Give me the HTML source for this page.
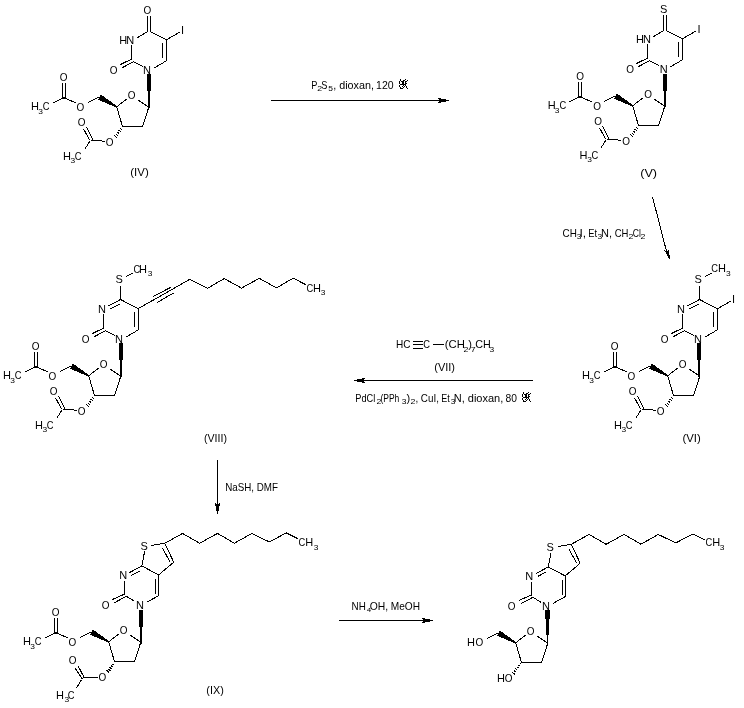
<!DOCTYPE html>
<html><head><meta charset="utf-8"><style>
html,body{margin:0;padding:0;background:#fff;}
svg{display:block;will-change:transform;}
text{font-family:"Liberation Sans",sans-serif;fill:#000;}
line,polyline{stroke:#000;stroke-width:1;fill:none;shape-rendering:crispEdges;}
line.h{stroke-width:1;}
rect{fill:#000;shape-rendering:crispEdges;}
polygon{shape-rendering:crispEdges;}
</style></head><body>
<svg width="744" height="708" viewBox="0 0 744 708">
<rect width="744" height="708" style="fill:#fff"/>
<line x1="116.70" y1="106.80" x2="126.60" y2="99.20"/>
<text x="127.63" y="99.00" font-size="11" textLength="7.75" lengthAdjust="spacingAndGlyphs">O</text>
<line x1="138.10" y1="100.10" x2="148.10" y2="106.80"/>
<line x1="116.80" y1="107.20" x2="122.40" y2="126.30"/>
<line x1="122.40" y1="126.50" x2="142.70" y2="126.50"/>
<line x1="142.70" y1="126.30" x2="148.70" y2="107.40"/>
<rect x="147" y="74" width="4" height="17"/>
<rect x="148" y="91" width="2" height="17"/>
<polygon points="117.19,106.20 100.82,94.57 97.98,99.63 116.41,107.60"/>
<line x1="88.30" y1="102.50" x2="98.60" y2="97.30"/>
<text x="59.73" y="81.00" font-size="11" textLength="7.75" lengthAdjust="spacingAndGlyphs">O</text>
<line x1="62.50" y1="83.30" x2="62.50" y2="97.60"/>
<line x1="65.50" y1="83.30" x2="65.50" y2="97.60"/>
<line x1="64.00" y1="97.80" x2="53.40" y2="102.70"/>
<line x1="64.00" y1="97.80" x2="76.40" y2="103.10"/>
<text x="76.53" y="111.00" font-size="11" textLength="7.75" lengthAdjust="spacingAndGlyphs">O</text>
<text x="31.10" y="110.00" font-size="11">H</text>
<text x="38.18" y="114.00" font-size="7" textLength="4.69" lengthAdjust="spacingAndGlyphs">3</text>
<text x="42.83" y="110.00" font-size="11" textLength="6.73" lengthAdjust="spacingAndGlyphs">C</text>
<line class="h" x1="120.26" y1="128.36" x2="121.94" y2="129.64"/>
<line class="h" x1="118.69" y1="130.13" x2="120.66" y2="131.62"/>
<line class="h" x1="117.12" y1="131.89" x2="119.38" y2="133.61"/>
<line class="h" x1="115.54" y1="133.65" x2="118.11" y2="135.60"/>
<line class="h" x1="113.97" y1="135.41" x2="116.83" y2="137.59"/>
<text x="105.63" y="146.00" font-size="11" textLength="7.75" lengthAdjust="spacingAndGlyphs">O</text>
<line x1="105.40" y1="141.20" x2="90.60" y2="140.30"/>
<line x1="83.60" y1="129.00" x2="89.70" y2="140.30"/>
<line x1="86.60" y1="127.20" x2="92.80" y2="139.90"/>
<text x="77.73" y="126.00" font-size="11" textLength="7.75" lengthAdjust="spacingAndGlyphs">O</text>
<line x1="89.70" y1="141.60" x2="84.50" y2="149.50"/>
<text x="63.00" y="160.00" font-size="11">H</text>
<text x="70.58" y="163.00" font-size="7" textLength="4.69" lengthAdjust="spacingAndGlyphs">3</text>
<text x="74.83" y="160.00" font-size="11" textLength="6.73" lengthAdjust="spacingAndGlyphs">C</text>
<text x="143.03" y="74.00" font-size="11">N</text>
<line x1="142.80" y1="66.40" x2="133.00" y2="61.70"/>
<line x1="120.00" y1="64.70" x2="131.70" y2="59.10"/>
<line x1="122.20" y1="67.70" x2="132.90" y2="62.10"/>
<text x="109.73" y="74.00" font-size="11" textLength="7.75" lengthAdjust="spacingAndGlyphs">O</text>
<line x1="131.50" y1="59.50" x2="131.50" y2="44.90"/>
<line x1="166.50" y1="39.80" x2="166.50" y2="60.80"/>
<line x1="162.60" y1="43.20" x2="162.60" y2="58.20"/>
<line x1="166.50" y1="60.80" x2="154.50" y2="67.70"/>
<text x="119.30" y="44.00" font-size="11">H</text>
<text x="126.30" y="44.00" font-size="11">N</text>
<line x1="137.40" y1="37.60" x2="148.20" y2="31.20"/>
<line x1="147.50" y1="16.10" x2="147.50" y2="31.20"/>
<line x1="150.50" y1="16.10" x2="150.50" y2="31.20"/>
<text x="143.53" y="14.00" font-size="11" textLength="7.75" lengthAdjust="spacingAndGlyphs">O</text>
<line x1="150.30" y1="31.70" x2="166.30" y2="39.80"/>
<line x1="166.30" y1="39.80" x2="179.40" y2="32.30"/>
<text x="180.98" y="34.00" font-size="11">I</text>
<text x="130.29" y="176.00" font-size="11" textLength="18.42" lengthAdjust="spacingAndGlyphs">(IV)</text>
<line x1="632.70" y1="105.80" x2="642.60" y2="98.20"/>
<text x="644.23" y="98.00" font-size="11" textLength="7.75" lengthAdjust="spacingAndGlyphs">O</text>
<line x1="654.10" y1="99.10" x2="664.10" y2="105.80"/>
<line x1="632.80" y1="106.20" x2="638.40" y2="125.30"/>
<line x1="638.40" y1="125.50" x2="658.70" y2="125.50"/>
<line x1="658.70" y1="125.30" x2="664.70" y2="106.40"/>
<rect x="663" y="74" width="4" height="17"/>
<rect x="664" y="91" width="2" height="16"/>
<polygon points="633.19,105.20 616.82,93.57 613.98,98.63 632.41,106.60"/>
<line x1="604.30" y1="101.50" x2="614.60" y2="96.30"/>
<text x="576.33" y="80.00" font-size="11" textLength="7.75" lengthAdjust="spacingAndGlyphs">O</text>
<line x1="578.50" y1="82.30" x2="578.50" y2="96.60"/>
<line x1="581.50" y1="82.30" x2="581.50" y2="96.60"/>
<line x1="580.00" y1="96.80" x2="569.40" y2="101.70"/>
<line x1="580.00" y1="96.80" x2="592.40" y2="102.10"/>
<text x="593.13" y="110.00" font-size="11" textLength="7.75" lengthAdjust="spacingAndGlyphs">O</text>
<text x="547.70" y="109.00" font-size="11">H</text>
<text x="554.78" y="113.00" font-size="7" textLength="4.69" lengthAdjust="spacingAndGlyphs">3</text>
<text x="559.43" y="109.00" font-size="11" textLength="6.73" lengthAdjust="spacingAndGlyphs">C</text>
<line class="h" x1="636.26" y1="127.36" x2="637.94" y2="128.64"/>
<line class="h" x1="634.69" y1="129.13" x2="636.66" y2="130.62"/>
<line class="h" x1="633.12" y1="130.89" x2="635.38" y2="132.61"/>
<line class="h" x1="631.54" y1="132.65" x2="634.11" y2="134.60"/>
<line class="h" x1="629.97" y1="134.41" x2="632.83" y2="136.59"/>
<text x="622.23" y="145.00" font-size="11" textLength="7.75" lengthAdjust="spacingAndGlyphs">O</text>
<line x1="621.40" y1="140.20" x2="606.60" y2="139.30"/>
<line x1="599.60" y1="128.00" x2="605.70" y2="139.30"/>
<line x1="602.60" y1="126.20" x2="608.80" y2="138.90"/>
<text x="594.33" y="125.00" font-size="11" textLength="7.75" lengthAdjust="spacingAndGlyphs">O</text>
<line x1="605.70" y1="140.60" x2="600.50" y2="148.50"/>
<text x="579.60" y="159.00" font-size="11">H</text>
<text x="587.18" y="162.00" font-size="7" textLength="4.69" lengthAdjust="spacingAndGlyphs">3</text>
<text x="591.43" y="159.00" font-size="11" textLength="6.73" lengthAdjust="spacingAndGlyphs">C</text>
<text x="659.63" y="73.00" font-size="11">N</text>
<line x1="658.80" y1="65.40" x2="649.00" y2="60.70"/>
<line x1="636.00" y1="63.70" x2="647.70" y2="58.10"/>
<line x1="638.20" y1="66.70" x2="648.90" y2="61.10"/>
<text x="626.33" y="73.00" font-size="11" textLength="7.75" lengthAdjust="spacingAndGlyphs">O</text>
<line x1="647.50" y1="58.50" x2="647.50" y2="43.90"/>
<line x1="682.50" y1="38.80" x2="682.50" y2="59.80"/>
<line x1="678.60" y1="42.20" x2="678.60" y2="57.20"/>
<line x1="682.50" y1="59.80" x2="670.50" y2="66.70"/>
<text x="635.90" y="43.00" font-size="11">H</text>
<text x="642.90" y="43.00" font-size="11">N</text>
<line x1="653.40" y1="36.60" x2="664.20" y2="30.20"/>
<line x1="663.50" y1="15.10" x2="663.50" y2="30.20"/>
<line x1="666.50" y1="15.10" x2="666.50" y2="30.20"/>
<text x="659.93" y="13.00" font-size="11">S</text>
<line x1="666.30" y1="30.70" x2="682.30" y2="38.80"/>
<line x1="682.30" y1="38.80" x2="695.40" y2="31.30"/>
<text x="697.58" y="33.00" font-size="11">I</text>
<text x="640.22" y="177.00" font-size="11" textLength="16.87" lengthAdjust="spacingAndGlyphs">(V)</text>
<line x1="667.70" y1="375.80" x2="677.60" y2="368.20"/>
<text x="678.63" y="368.00" font-size="11" textLength="7.75" lengthAdjust="spacingAndGlyphs">O</text>
<line x1="689.10" y1="369.10" x2="699.10" y2="375.80"/>
<line x1="667.80" y1="376.20" x2="673.40" y2="395.30"/>
<line x1="673.40" y1="395.50" x2="693.70" y2="395.50"/>
<line x1="693.70" y1="395.30" x2="699.70" y2="376.40"/>
<rect x="697" y="343" width="4" height="17"/>
<rect x="698" y="360" width="2" height="17"/>
<polygon points="668.19,375.20 651.82,363.57 648.98,368.63 667.41,376.60"/>
<line x1="639.30" y1="371.50" x2="649.60" y2="366.30"/>
<text x="610.73" y="350.00" font-size="11" textLength="7.75" lengthAdjust="spacingAndGlyphs">O</text>
<line x1="613.50" y1="352.30" x2="613.50" y2="366.60"/>
<line x1="616.50" y1="352.30" x2="616.50" y2="366.60"/>
<line x1="615.00" y1="366.80" x2="604.40" y2="371.70"/>
<line x1="615.00" y1="366.80" x2="627.40" y2="372.10"/>
<text x="627.53" y="380.00" font-size="11" textLength="7.75" lengthAdjust="spacingAndGlyphs">O</text>
<text x="582.10" y="379.00" font-size="11">H</text>
<text x="589.18" y="383.00" font-size="7" textLength="4.69" lengthAdjust="spacingAndGlyphs">3</text>
<text x="593.83" y="379.00" font-size="11" textLength="6.73" lengthAdjust="spacingAndGlyphs">C</text>
<line class="h" x1="671.26" y1="397.36" x2="672.94" y2="398.64"/>
<line class="h" x1="669.69" y1="399.13" x2="671.66" y2="400.62"/>
<line class="h" x1="668.12" y1="400.89" x2="670.38" y2="402.61"/>
<line class="h" x1="666.54" y1="402.65" x2="669.11" y2="404.60"/>
<line class="h" x1="664.97" y1="404.41" x2="667.83" y2="406.59"/>
<text x="656.63" y="415.00" font-size="11" textLength="7.75" lengthAdjust="spacingAndGlyphs">O</text>
<line x1="656.40" y1="410.20" x2="641.60" y2="409.30"/>
<line x1="634.60" y1="398.00" x2="640.70" y2="409.30"/>
<line x1="637.60" y1="396.20" x2="643.80" y2="408.90"/>
<text x="628.73" y="395.00" font-size="11" textLength="7.75" lengthAdjust="spacingAndGlyphs">O</text>
<line x1="640.70" y1="410.60" x2="635.50" y2="418.50"/>
<text x="614.00" y="429.00" font-size="11">H</text>
<text x="621.58" y="432.00" font-size="7" textLength="4.69" lengthAdjust="spacingAndGlyphs">3</text>
<text x="625.83" y="429.00" font-size="11" textLength="6.73" lengthAdjust="spacingAndGlyphs">C</text>
<text x="694.03" y="343.00" font-size="11">N</text>
<line x1="693.80" y1="335.40" x2="684.00" y2="330.70"/>
<line x1="671.00" y1="333.70" x2="682.70" y2="328.10"/>
<line x1="673.20" y1="336.70" x2="683.90" y2="331.10"/>
<text x="660.73" y="343.00" font-size="11" textLength="7.75" lengthAdjust="spacingAndGlyphs">O</text>
<line x1="682.50" y1="328.50" x2="682.50" y2="313.90"/>
<line x1="717.50" y1="308.80" x2="717.50" y2="329.80"/>
<line x1="713.60" y1="312.20" x2="713.60" y2="327.20"/>
<line x1="717.50" y1="329.80" x2="705.50" y2="336.70"/>
<text x="677.00" y="313.00" font-size="11">N</text>
<line x1="686.70" y1="306.20" x2="699.60" y2="299.50"/>
<line x1="689.00" y1="309.10" x2="698.60" y2="304.00"/>
<line x1="699.50" y1="285.50" x2="699.50" y2="299.50"/>
<text x="694.40" y="283.00" font-size="11">S</text>
<line x1="705.10" y1="276.50" x2="711.80" y2="273.10"/>
<line x1="699.60" y1="299.50" x2="717.30" y2="308.80"/>
<line x1="717.30" y1="308.80" x2="730.40" y2="301.30"/>
<text x="731.98" y="303.00" font-size="11">I</text>
<text x="711.33" y="272.00" font-size="11" textLength="6.73" lengthAdjust="spacingAndGlyphs">C</text>
<text x="718.00" y="272.00" font-size="11">H</text>
<text x="725.98" y="276.00" font-size="7" textLength="4.69" lengthAdjust="spacingAndGlyphs">3</text>
<text x="682.40" y="442.00" font-size="11" textLength="18.31" lengthAdjust="spacingAndGlyphs">(VI)</text>
<line x1="88.70" y1="375.80" x2="98.60" y2="368.20"/>
<text x="99.63" y="368.00" font-size="11" textLength="7.75" lengthAdjust="spacingAndGlyphs">O</text>
<line x1="110.10" y1="369.10" x2="120.10" y2="375.80"/>
<line x1="88.80" y1="376.20" x2="94.40" y2="395.30"/>
<line x1="94.40" y1="395.50" x2="114.70" y2="395.50"/>
<line x1="114.70" y1="395.30" x2="120.70" y2="376.40"/>
<rect x="119" y="343" width="4" height="17"/>
<rect x="120" y="360" width="2" height="17"/>
<polygon points="89.19,375.20 72.82,363.57 69.98,368.63 88.41,376.60"/>
<line x1="60.30" y1="371.50" x2="70.60" y2="366.30"/>
<text x="31.73" y="350.00" font-size="11" textLength="7.75" lengthAdjust="spacingAndGlyphs">O</text>
<line x1="34.50" y1="352.30" x2="34.50" y2="366.60"/>
<line x1="37.50" y1="352.30" x2="37.50" y2="366.60"/>
<line x1="36.00" y1="366.80" x2="25.40" y2="371.70"/>
<line x1="36.00" y1="366.80" x2="48.40" y2="372.10"/>
<text x="48.53" y="380.00" font-size="11" textLength="7.75" lengthAdjust="spacingAndGlyphs">O</text>
<text x="3.10" y="379.00" font-size="11">H</text>
<text x="10.18" y="383.00" font-size="7" textLength="4.69" lengthAdjust="spacingAndGlyphs">3</text>
<text x="14.83" y="379.00" font-size="11" textLength="6.73" lengthAdjust="spacingAndGlyphs">C</text>
<line class="h" x1="92.26" y1="397.36" x2="93.94" y2="398.64"/>
<line class="h" x1="90.69" y1="399.13" x2="92.66" y2="400.62"/>
<line class="h" x1="89.12" y1="400.89" x2="91.38" y2="402.61"/>
<line class="h" x1="87.54" y1="402.65" x2="90.11" y2="404.60"/>
<line class="h" x1="85.97" y1="404.41" x2="88.83" y2="406.59"/>
<text x="77.63" y="415.00" font-size="11" textLength="7.75" lengthAdjust="spacingAndGlyphs">O</text>
<line x1="77.40" y1="410.20" x2="62.60" y2="409.30"/>
<line x1="55.60" y1="398.00" x2="61.70" y2="409.30"/>
<line x1="58.60" y1="396.20" x2="64.80" y2="408.90"/>
<text x="49.73" y="395.00" font-size="11" textLength="7.75" lengthAdjust="spacingAndGlyphs">O</text>
<line x1="61.70" y1="410.60" x2="56.50" y2="418.50"/>
<text x="35.00" y="429.00" font-size="11">H</text>
<text x="42.58" y="432.00" font-size="7" textLength="4.69" lengthAdjust="spacingAndGlyphs">3</text>
<text x="46.83" y="429.00" font-size="11" textLength="6.73" lengthAdjust="spacingAndGlyphs">C</text>
<text x="115.03" y="343.00" font-size="11">N</text>
<line x1="114.80" y1="335.40" x2="105.00" y2="330.70"/>
<line x1="92.00" y1="333.70" x2="103.70" y2="328.10"/>
<line x1="94.20" y1="336.70" x2="104.90" y2="331.10"/>
<text x="81.73" y="343.00" font-size="11" textLength="7.75" lengthAdjust="spacingAndGlyphs">O</text>
<line x1="103.50" y1="328.50" x2="103.50" y2="313.90"/>
<line x1="138.50" y1="308.80" x2="138.50" y2="329.80"/>
<line x1="134.60" y1="312.20" x2="134.60" y2="327.20"/>
<line x1="138.50" y1="329.80" x2="126.50" y2="336.70"/>
<text x="98.00" y="313.00" font-size="11">N</text>
<line x1="107.70" y1="306.20" x2="120.60" y2="299.50"/>
<line x1="110.00" y1="309.10" x2="119.60" y2="304.00"/>
<line x1="120.50" y1="285.50" x2="120.50" y2="299.50"/>
<text x="115.40" y="283.00" font-size="11">S</text>
<line x1="126.10" y1="276.50" x2="132.80" y2="273.10"/>
<line x1="120.60" y1="299.50" x2="138.30" y2="308.80"/>
<text x="133.43" y="273.00" font-size="11" textLength="6.73" lengthAdjust="spacingAndGlyphs">C</text>
<text x="139.00" y="273.00" font-size="11">H</text>
<text x="147.68" y="276.00" font-size="7" textLength="4.69" lengthAdjust="spacingAndGlyphs">3</text>
<line x1="138.30" y1="308.60" x2="189.60" y2="279.40"/>
<line x1="153.30" y1="296.30" x2="170.70" y2="287.40"/>
<line x1="157.10" y1="302.50" x2="173.60" y2="293.00"/>
<polyline points="189.60,279.40 207.60,288.30 224.20,278.60 241.50,288.10 259.30,278.30 276.50,287.90 293.20,278.20 305.60,284.60"/>
<text x="306.53" y="292.00" font-size="11" textLength="6.73" lengthAdjust="spacingAndGlyphs">C</text>
<text x="313.10" y="292.00" font-size="11">H</text>
<text x="320.78" y="295.00" font-size="7" textLength="4.69" lengthAdjust="spacingAndGlyphs">3</text>
<text x="204.04" y="442.00" font-size="11" textLength="22.91" lengthAdjust="spacingAndGlyphs">(VIII)</text>
<line x1="108.70" y1="641.80" x2="118.60" y2="634.20"/>
<text x="119.63" y="634.00" font-size="11" textLength="7.75" lengthAdjust="spacingAndGlyphs">O</text>
<line x1="130.10" y1="635.10" x2="140.10" y2="641.80"/>
<line x1="108.80" y1="642.20" x2="114.40" y2="661.30"/>
<line x1="114.40" y1="661.50" x2="134.70" y2="661.50"/>
<line x1="134.70" y1="661.30" x2="140.70" y2="642.40"/>
<rect x="139" y="610" width="4" height="17"/>
<rect x="140" y="627" width="2" height="17"/>
<polygon points="109.19,641.20 92.82,629.57 89.98,634.63 108.41,642.60"/>
<line x1="80.30" y1="637.50" x2="90.60" y2="632.30"/>
<text x="51.73" y="616.00" font-size="11" textLength="7.75" lengthAdjust="spacingAndGlyphs">O</text>
<line x1="54.50" y1="618.30" x2="54.50" y2="632.60"/>
<line x1="57.50" y1="618.30" x2="57.50" y2="632.60"/>
<line x1="56.00" y1="632.80" x2="45.40" y2="637.70"/>
<line x1="56.00" y1="632.80" x2="68.40" y2="638.10"/>
<text x="68.53" y="646.00" font-size="11" textLength="7.75" lengthAdjust="spacingAndGlyphs">O</text>
<text x="23.10" y="645.00" font-size="11">H</text>
<text x="30.18" y="649.00" font-size="7" textLength="4.69" lengthAdjust="spacingAndGlyphs">3</text>
<text x="34.83" y="645.00" font-size="11" textLength="6.73" lengthAdjust="spacingAndGlyphs">C</text>
<line class="h" x1="112.37" y1="663.95" x2="114.03" y2="665.25"/>
<line class="h" x1="110.90" y1="665.54" x2="112.85" y2="667.06"/>
<line class="h" x1="109.43" y1="667.12" x2="111.67" y2="668.88"/>
<line class="h" x1="107.95" y1="668.71" x2="110.50" y2="670.69"/>
<line class="h" x1="106.48" y1="670.29" x2="109.32" y2="672.51"/>
<text x="98.53" y="681.00" font-size="11" textLength="7.75" lengthAdjust="spacingAndGlyphs">O</text>
<line x1="97.60" y1="677.50" x2="83.10" y2="677.50"/>
<line x1="75.40" y1="668.50" x2="82.30" y2="679.00"/>
<line x1="78.20" y1="666.10" x2="83.90" y2="677.00"/>
<text x="68.73" y="664.00" font-size="11" textLength="7.75" lengthAdjust="spacingAndGlyphs">O</text>
<line x1="81.50" y1="679.80" x2="76.20" y2="688.30"/>
<text x="56.00" y="699.00" font-size="11">H</text>
<text x="64.58" y="702.00" font-size="7" textLength="4.69" lengthAdjust="spacingAndGlyphs">3</text>
<text x="67.63" y="699.00" font-size="11" textLength="6.73" lengthAdjust="spacingAndGlyphs">C</text>
<text x="136.03" y="609.00" font-size="11">N</text>
<line x1="134.60" y1="601.30" x2="126.50" y2="596.40"/>
<line x1="112.40" y1="599.50" x2="124.00" y2="594.30"/>
<line x1="114.50" y1="602.70" x2="126.10" y2="596.40"/>
<text x="101.63" y="609.00" font-size="11" textLength="7.75" lengthAdjust="spacingAndGlyphs">O</text>
<line x1="124.50" y1="594.60" x2="124.50" y2="581.20"/>
<text x="119.20" y="579.00" font-size="11">N</text>
<line x1="129.30" y1="572.70" x2="141.70" y2="566.00"/>
<line x1="131.10" y1="575.50" x2="139.90" y2="570.90"/>
<line x1="141.90" y1="565.70" x2="144.60" y2="551.50"/>
<text x="140.50" y="550.00" font-size="11">S</text>
<line x1="151.50" y1="545.50" x2="164.80" y2="543.20"/>
<line x1="164.80" y1="543.20" x2="173.60" y2="562.00"/>
<line x1="162.50" y1="548.30" x2="169.90" y2="561.60"/>
<line x1="173.60" y1="562.30" x2="158.70" y2="574.90"/>
<line x1="141.90" y1="566.00" x2="158.70" y2="574.90"/>
<line x1="158.50" y1="574.90" x2="158.50" y2="595.60"/>
<line x1="155.50" y1="579.00" x2="155.50" y2="593.70"/>
<line x1="158.70" y1="595.60" x2="146.50" y2="602.40"/>
<polyline points="164.80,543.30 182.60,533.40 199.60,543.30 217.50,533.40 234.40,543.20 251.80,533.50 269.30,541.90 286.40,532.90 298.00,538.80"/>
<text x="298.53" y="546.00" font-size="11" textLength="6.73" lengthAdjust="spacingAndGlyphs">C</text>
<text x="305.30" y="546.00" font-size="11">H</text>
<text x="313.68" y="550.00" font-size="7" textLength="4.69" lengthAdjust="spacingAndGlyphs">3</text>
<text x="206.33" y="694.00" font-size="11" textLength="17.44" lengthAdjust="spacingAndGlyphs">(IX)</text>
<line x1="515.70" y1="642.80" x2="525.60" y2="635.20"/>
<text x="526.63" y="635.00" font-size="11" textLength="7.75" lengthAdjust="spacingAndGlyphs">O</text>
<line x1="537.10" y1="636.10" x2="547.10" y2="642.80"/>
<line x1="515.80" y1="643.20" x2="521.40" y2="662.30"/>
<line x1="521.40" y1="662.50" x2="541.70" y2="662.50"/>
<line x1="541.70" y1="662.30" x2="547.70" y2="643.40"/>
<rect x="545" y="610" width="5" height="9"/>
<rect x="546" y="619" width="3" height="16"/>
<rect x="547" y="635" width="1" height="9"/>
<polygon points="516.19,642.20 499.82,630.57 496.98,635.63 515.41,643.60"/>
<line x1="487.30" y1="638.50" x2="497.60" y2="633.30"/>
<line class="h" x1="520.01" y1="663.15" x2="520.99" y2="663.85"/>
<line class="h" x1="518.43" y1="664.98" x2="519.77" y2="665.94"/>
<line class="h" x1="516.85" y1="666.82" x2="518.55" y2="668.02"/>
<line class="h" x1="515.27" y1="668.65" x2="517.33" y2="670.11"/>
<line class="h" x1="513.70" y1="670.48" x2="516.10" y2="672.20"/>
<line class="h" x1="512.12" y1="672.31" x2="514.88" y2="674.29"/>
<text x="542.03" y="609.50" font-size="11">N</text>
<line x1="541.10" y1="602.30" x2="533.00" y2="597.40"/>
<line x1="518.90" y1="600.50" x2="530.50" y2="595.30"/>
<line x1="521.00" y1="603.70" x2="532.60" y2="597.40"/>
<text x="507.63" y="609.50" font-size="11" textLength="7.75" lengthAdjust="spacingAndGlyphs">O</text>
<line x1="531.00" y1="595.60" x2="531.00" y2="582.20"/>
<text x="525.20" y="579.50" font-size="11">N</text>
<line x1="535.80" y1="573.70" x2="548.20" y2="567.00"/>
<line x1="537.60" y1="576.50" x2="546.40" y2="571.90"/>
<line x1="548.40" y1="566.70" x2="551.10" y2="552.50"/>
<text x="546.50" y="550.50" font-size="11">S</text>
<line x1="558.00" y1="546.50" x2="571.30" y2="544.20"/>
<line x1="571.30" y1="544.20" x2="580.10" y2="563.00"/>
<line x1="569.00" y1="549.30" x2="576.40" y2="562.60"/>
<line x1="580.10" y1="563.30" x2="565.20" y2="575.90"/>
<line x1="548.40" y1="567.00" x2="565.20" y2="575.90"/>
<line x1="565.00" y1="575.90" x2="565.00" y2="596.60"/>
<line x1="562.00" y1="580.00" x2="562.00" y2="594.70"/>
<line x1="565.20" y1="596.60" x2="553.00" y2="603.40"/>
<polyline points="571.30,544.30 589.10,534.40 606.10,544.30 624.00,534.40 640.90,544.20 658.30,534.50 675.80,542.90 692.90,533.90 704.50,539.80"/>
<text x="705.43" y="546.00" font-size="11" textLength="6.73" lengthAdjust="spacingAndGlyphs">C</text>
<text x="712.20" y="546.00" font-size="11">H</text>
<text x="719.78" y="550.00" font-size="7" textLength="4.69" lengthAdjust="spacingAndGlyphs">3</text>
<text x="467.10" y="646.00" font-size="11">H</text>
<text x="475.53" y="646.00" font-size="11" textLength="7.75" lengthAdjust="spacingAndGlyphs">O</text>
<text x="497.10" y="682.00" font-size="11">H</text>
<text x="504.83" y="682.00" font-size="11" textLength="7.75" lengthAdjust="spacingAndGlyphs">O</text>
<rect x="271" y="100" width="178" height="1"/>
<rect x="438" y="98" width="1" height="1"/>
<rect x="438" y="102" width="1" height="1"/>
<rect x="439" y="98" width="2" height="5"/>
<rect x="441" y="99" width="5" height="3"/>
<line x1="652.60" y1="197.20" x2="667.20" y2="254.00"/>
<polygon points="669.9,260.2 664.3,250.3 667.0,252.3 669.0,248.9"/>
<rect x="354" y="380" width="179" height="1"/>
<rect x="357" y="379" width="5" height="3"/>
<rect x="362" y="378" width="2" height="5"/>
<rect x="364" y="378" width="1" height="1"/>
<rect x="364" y="382" width="1" height="1"/>
<rect x="217" y="460" width="1" height="54"/>
<rect x="215" y="503" width="1" height="1"/>
<rect x="219" y="503" width="1" height="1"/>
<rect x="215" y="504" width="5" height="2"/>
<rect x="216" y="506" width="3" height="5"/>
<rect x="339" y="620" width="94" height="1"/>
<rect x="422" y="618" width="1" height="1"/>
<rect x="422" y="622" width="1" height="1"/>
<rect x="423" y="618" width="2" height="5"/>
<rect x="425" y="619" width="5" height="3"/>
<text x="311.24" y="89.00" font-size="11" textLength="6.14" lengthAdjust="spacingAndGlyphs">P</text>
<text x="317.26" y="91.00" font-size="7.5" textLength="4.88" lengthAdjust="spacingAndGlyphs">2</text>
<text x="321.28" y="89.00" font-size="11" textLength="6.14" lengthAdjust="spacingAndGlyphs">S</text>
<text x="328.26" y="91.00" font-size="7.5" textLength="4.69" lengthAdjust="spacingAndGlyphs">5</text>
<text x="333.23" y="89.00" font-size="11" textLength="40.74" lengthAdjust="spacingAndGlyphs">, dioxan,</text>
<text x="376.10" y="89.00" font-size="11" textLength="17.51" lengthAdjust="spacingAndGlyphs">120</text>
<text x="562.50" y="237.00" font-size="11" textLength="14.31" lengthAdjust="spacingAndGlyphs">CH</text>
<text x="576.88" y="239.00" font-size="7.5" textLength="4.69" lengthAdjust="spacingAndGlyphs">3</text>
<text x="579.49" y="237.00" font-size="11" textLength="6.69" lengthAdjust="spacingAndGlyphs">I,</text>
<text x="588.23" y="237.00" font-size="11" textLength="8.84" lengthAdjust="spacingAndGlyphs">Et</text>
<text x="597.48" y="239.00" font-size="7.5" textLength="4.69" lengthAdjust="spacingAndGlyphs">3</text>
<text x="601.00" y="237.00" font-size="11" textLength="10.99" lengthAdjust="spacingAndGlyphs">N,</text>
<text x="614.72" y="237.00" font-size="11" textLength="13.76" lengthAdjust="spacingAndGlyphs">CH</text>
<text x="628.56" y="239.00" font-size="7.5" textLength="4.88" lengthAdjust="spacingAndGlyphs">2</text>
<text x="632.76" y="237.00" font-size="11" textLength="8.11" lengthAdjust="spacingAndGlyphs">Cl</text>
<text x="640.56" y="239.00" font-size="7.5" textLength="4.88" lengthAdjust="spacingAndGlyphs">2</text>
<text x="395.98" y="348.00" font-size="11" textLength="14.51" lengthAdjust="spacingAndGlyphs">HC</text>
<rect x="413" y="341" width="10" height="1"/>
<rect x="413" y="344" width="10" height="1"/>
<rect x="413" y="348" width="10" height="1"/>
<text x="423.23" y="348.00" font-size="11" textLength="6.73" lengthAdjust="spacingAndGlyphs">C</text>
<rect x="433" y="344" width="11" height="1"/>
<text x="444.70" y="348.00" font-size="11" textLength="20.13" lengthAdjust="spacingAndGlyphs">(CH</text>
<text x="463.46" y="352.00" font-size="7.5" textLength="4.88" lengthAdjust="spacingAndGlyphs">2</text>
<text x="468.34" y="348.00" font-size="11">)</text>
<text x="470.85" y="352.00" font-size="7.5" textLength="4.89" lengthAdjust="spacingAndGlyphs">7</text>
<text x="475.15" y="348.00" font-size="11" textLength="15.52" lengthAdjust="spacingAndGlyphs">CH</text>
<text x="489.48" y="352.00" font-size="7.5" textLength="4.69" lengthAdjust="spacingAndGlyphs">3</text>
<text x="434.22" y="371.00" font-size="11" textLength="20.76" lengthAdjust="spacingAndGlyphs">(VII)</text>
<text x="355.24" y="402.00" font-size="11" textLength="19.97" lengthAdjust="spacingAndGlyphs">PdCl</text>
<text x="376.56" y="404.00" font-size="7.5" textLength="4.88" lengthAdjust="spacingAndGlyphs">2</text>
<text x="380.47" y="402.00" font-size="11" textLength="18.88" lengthAdjust="spacingAndGlyphs">(PPh</text>
<text x="401.68" y="404.00" font-size="7.5" textLength="4.69" lengthAdjust="spacingAndGlyphs">3</text>
<text x="406.54" y="402.00" font-size="11">)</text>
<text x="410.56" y="404.00" font-size="7.5" textLength="4.88" lengthAdjust="spacingAndGlyphs">2</text>
<text x="415.42" y="402.00" font-size="11" textLength="23.46" lengthAdjust="spacingAndGlyphs">, CuI,</text>
<text x="441.36" y="402.00" font-size="11" textLength="8.50" lengthAdjust="spacingAndGlyphs">Et</text>
<text x="450.68" y="404.00" font-size="7.5" textLength="4.69" lengthAdjust="spacingAndGlyphs">3</text>
<text x="453.70" y="402.00" font-size="11" textLength="49.59" lengthAdjust="spacingAndGlyphs">N, dioxan,</text>
<text x="505.45" y="402.00" font-size="11" textLength="11.45" lengthAdjust="spacingAndGlyphs">80</text>
<text x="225.20" y="491.00" font-size="11" textLength="52.80" lengthAdjust="spacingAndGlyphs">NaSH, DMF</text>
<text x="351.59" y="610.00" font-size="11" textLength="14.21" lengthAdjust="spacingAndGlyphs">NH</text>
<text x="366.72" y="612.00" font-size="6" textLength="4.41" lengthAdjust="spacingAndGlyphs">4</text>
<text x="369.81" y="610.00" font-size="11" textLength="18.42" lengthAdjust="spacingAndGlyphs">OH,</text>
<text x="390.77" y="610.00" font-size="11" textLength="29.26" lengthAdjust="spacingAndGlyphs">MeOH</text>
<rect x="400" y="79" width="1" height="1"/>
<rect x="405" y="79" width="1" height="1"/>
<rect x="400" y="80" width="1" height="1"/>
<rect x="403" y="80" width="1" height="1"/>
<rect x="404" y="80" width="1" height="1"/>
<rect x="407" y="80" width="1" height="1"/>
<rect x="399" y="81" width="1" height="1"/>
<rect x="401" y="81" width="1" height="1"/>
<rect x="402" y="81" width="1" height="1"/>
<rect x="403" y="81" width="1" height="1"/>
<rect x="405" y="81" width="1" height="1"/>
<rect x="406" y="81" width="1" height="1"/>
<rect x="399" y="82" width="1" height="1"/>
<rect x="402" y="82" width="1" height="1"/>
<rect x="403" y="82" width="1" height="1"/>
<rect x="405" y="82" width="1" height="1"/>
<rect x="399" y="83" width="1" height="1"/>
<rect x="402" y="83" width="1" height="1"/>
<rect x="403" y="83" width="1" height="1"/>
<rect x="405" y="83" width="1" height="1"/>
<rect x="406" y="83" width="1" height="1"/>
<rect x="400" y="84" width="1" height="1"/>
<rect x="401" y="84" width="1" height="1"/>
<rect x="402" y="84" width="1" height="1"/>
<rect x="403" y="84" width="1" height="1"/>
<rect x="404" y="84" width="1" height="1"/>
<rect x="405" y="84" width="1" height="1"/>
<rect x="399" y="85" width="1" height="1"/>
<rect x="403" y="85" width="1" height="1"/>
<rect x="405" y="85" width="1" height="1"/>
<rect x="399" y="86" width="1" height="1"/>
<rect x="402" y="86" width="1" height="1"/>
<rect x="404" y="86" width="1" height="1"/>
<rect x="406" y="86" width="1" height="1"/>
<rect x="400" y="87" width="1" height="1"/>
<rect x="403" y="87" width="1" height="1"/>
<rect x="406" y="87" width="1" height="1"/>
<rect x="400" y="88" width="1" height="1"/>
<rect x="401" y="88" width="1" height="1"/>
<rect x="402" y="88" width="1" height="1"/>
<rect x="407" y="88" width="1" height="1"/>
<rect x="523" y="392" width="1" height="1"/>
<rect x="528" y="392" width="1" height="1"/>
<rect x="523" y="393" width="1" height="1"/>
<rect x="526" y="393" width="1" height="1"/>
<rect x="527" y="393" width="1" height="1"/>
<rect x="530" y="393" width="1" height="1"/>
<rect x="522" y="394" width="1" height="1"/>
<rect x="524" y="394" width="1" height="1"/>
<rect x="525" y="394" width="1" height="1"/>
<rect x="526" y="394" width="1" height="1"/>
<rect x="528" y="394" width="1" height="1"/>
<rect x="529" y="394" width="1" height="1"/>
<rect x="522" y="395" width="1" height="1"/>
<rect x="525" y="395" width="1" height="1"/>
<rect x="526" y="395" width="1" height="1"/>
<rect x="528" y="395" width="1" height="1"/>
<rect x="522" y="396" width="1" height="1"/>
<rect x="525" y="396" width="1" height="1"/>
<rect x="526" y="396" width="1" height="1"/>
<rect x="528" y="396" width="1" height="1"/>
<rect x="529" y="396" width="1" height="1"/>
<rect x="523" y="397" width="1" height="1"/>
<rect x="524" y="397" width="1" height="1"/>
<rect x="525" y="397" width="1" height="1"/>
<rect x="526" y="397" width="1" height="1"/>
<rect x="527" y="397" width="1" height="1"/>
<rect x="528" y="397" width="1" height="1"/>
<rect x="522" y="398" width="1" height="1"/>
<rect x="526" y="398" width="1" height="1"/>
<rect x="528" y="398" width="1" height="1"/>
<rect x="522" y="399" width="1" height="1"/>
<rect x="525" y="399" width="1" height="1"/>
<rect x="527" y="399" width="1" height="1"/>
<rect x="529" y="399" width="1" height="1"/>
<rect x="523" y="400" width="1" height="1"/>
<rect x="526" y="400" width="1" height="1"/>
<rect x="529" y="400" width="1" height="1"/>
<rect x="523" y="401" width="1" height="1"/>
<rect x="524" y="401" width="1" height="1"/>
<rect x="525" y="401" width="1" height="1"/>
<rect x="530" y="401" width="1" height="1"/>
</svg></body></html>
